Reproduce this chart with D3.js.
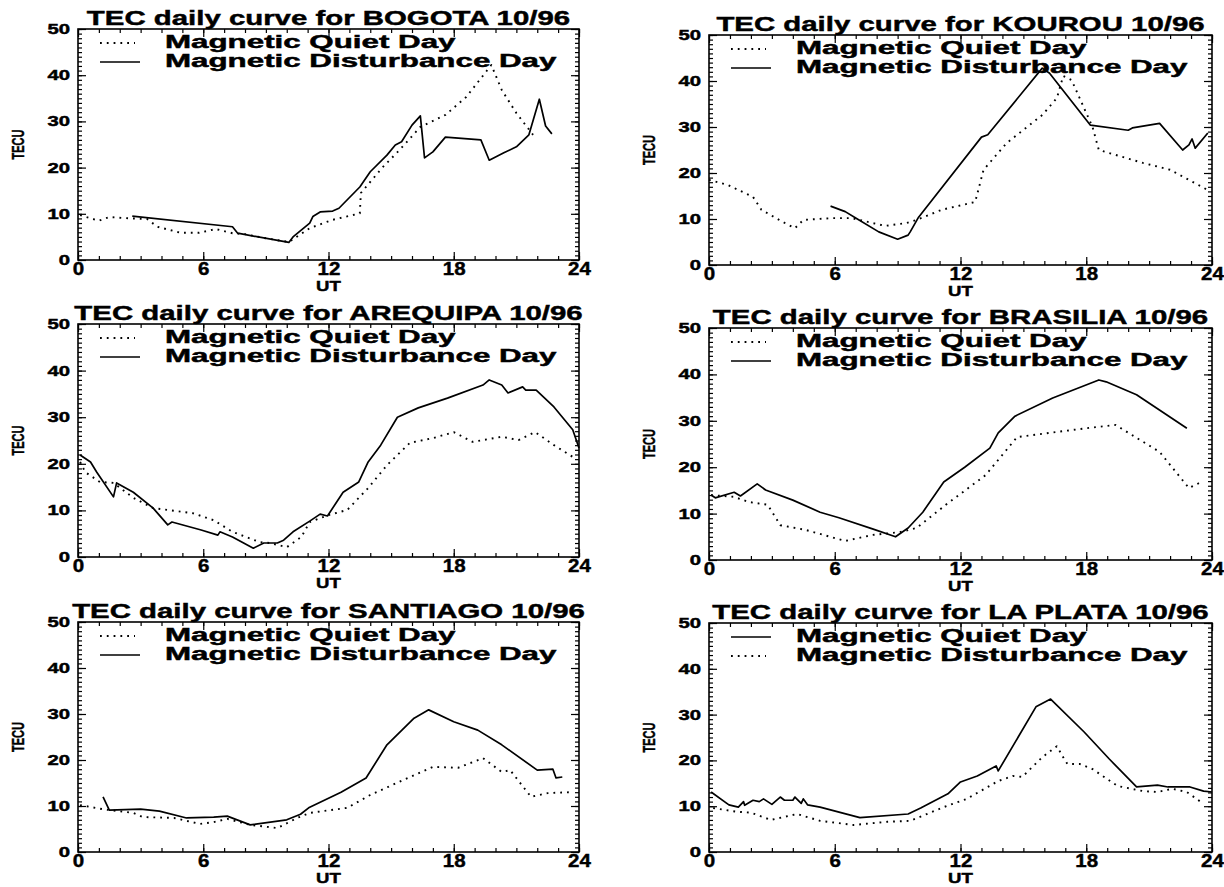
<!DOCTYPE html>
<html>
<head>
<meta charset="utf-8">
<script src="https://cdn.jsdelivr.net/npm/d3@7"></script>
<style>
  body { margin: 0; background: #fff; }
  svg { display: block; }
  text { font-family: "Liberation Sans", Arial, Helvetica, sans-serif; font-weight: bold; fill: #000; stroke: #000; stroke-width: 0.45; }
</style>
</head>
<body>
<svg id="chart" width="1224" height="887"></svg>
<script>
// ---- data -------------------------------------------------------------
const stations = ["BOGOTA", "KOUROU", "AREQUIPA", "BRASILIA", "SANTIAGO", "LA PLATA"];
const monthLabel = "10/96";
const xTickValues = [0, 6, 12, 18, 24];
const yTickValues = [0, 10, 20, 30, 40, 50];
const legendLabels = ["Magnetic Quiet Day", "Magnetic Disturbance Day"];

// [UT hour, TEC units]
const bogotaQuiet = [[0.1,9.7],[1.0,8.5],[1.5,9.3],[2.5,9.0],[3.3,8.9],[3.8,7.2],[4.9,5.9],[5.8,5.9],[6.6,6.7],[7.4,5.8],[8.0,5.6],[9.0,4.7],[10.1,3.9],[10.6,5.4],[11.1,6.9],[12.2,8.7],[13.5,10.1],[13.55,14.5],[14.6,20.1],[15.4,23.8],[16.4,28.8],[17.6,31.4],[18.6,35.3],[19.8,42.2],[20.3,36.8],[21.0,31.8],[21.8,27.1]];
const bogotaDisturbed = [[2.6,9.5],[7.4,7.2],[7.65,5.8],[10.1,3.8],[10.3,5.0],[11.1,8.0],[11.25,9.4],[11.6,10.4],[12.2,10.6],[12.5,11.2],[13.5,15.8],[14.0,19.1],[14.8,22.7],[15.2,24.9],[15.5,25.6],[16.0,29.2],[16.4,31.2],[16.6,22.1],[17.0,23.4],[17.6,26.6],[19.3,26.0],[19.7,21.6],[20.4,23.2],[21.0,24.5],[21.6,27.1],[22.1,34.8],[22.4,29.0],[22.7,27.3]];

const kourouQuiet = [[0,18.5],[0.9,17.4],[2.1,14.8],[2.5,12.0],[3.5,9.4],[4.1,8.0],[4.5,9.8],[5.9,10.2],[6.8,10.2],[8.4,8.5],[9.4,9.1],[9.9,9.8],[11.1,12.0],[12.7,13.7],[13.1,20.7],[14.2,26.5],[15.9,32.6],[16.6,36.3],[16.9,41.1],[17.3,40.2],[18.3,30.0],[18.6,25.0],[20.7,22.2],[22.0,20.7],[23.8,16.3]];
const kourouDisturbed = [[5.8,12.8],[6.5,11.6],[7.0,10.2],[8.1,7.2],[9.0,5.6],[9.5,6.5],[9.6,7.2],[10.0,10.4],[13.0,27.8],[13.3,28.3],[15.9,42.8],[16.25,41.7],[18.2,30.4],[20.0,29.3],[20.2,29.8],[21.5,30.8],[22.6,25.0],[22.9,26.1],[23.05,27.4],[23.2,25.4],[23.8,28.7]];

const arequipaQuiet = [[0.1,20.4],[0.35,18.2],[1.05,16.1],[1.7,15.9],[2.65,12.7],[3.6,10.5],[4.3,10.1],[5.5,9.4],[6.5,7.9],[7.4,5.4],[8.7,3.2],[9.2,3.0],[10.0,2.1],[10.7,4.3],[11.1,7.5],[12.0,9.0],[12.9,10.1],[13.9,14.8],[14.8,19.7],[15.9,24.5],[17.0,25.5],[18.0,26.8],[18.9,24.7],[20.3,25.8],[21.1,25.1],[21.9,26.8],[22.8,24.0],[23.8,21.2]];
const arequipaDisturbed = [[0.1,21.9],[0.6,20.4],[0.9,18.2],[1.7,12.9],[1.85,15.9],[2.65,13.9],[3.6,10.5],[4.3,6.9],[4.5,7.5],[5.9,5.8],[6.7,4.7],[6.8,5.4],[7.4,4.3],[8.4,1.9],[8.9,3.0],[9.55,3.0],[9.85,3.6],[10.3,5.4],[11.1,7.7],[11.6,9.2],[11.95,8.8],[12.7,13.9],[13.45,16.1],[13.9,20.4],[14.5,24.0],[15.3,30.0],[16.3,32.0],[17.7,34.1],[19.4,36.9],[19.7,38.0],[20.3,36.9],[20.6,35.2],[21.3,36.5],[21.45,35.8],[21.95,35.8],[22.8,32.2],[23.7,27.3],[24.0,23.4]];

const brasiliaQuiet = [[0.1,14.0],[1.2,13.6],[1.9,12.5],[2.8,11.9],[3.4,7.5],[4.6,6.5],[6.5,4.1],[7.8,5.4],[9.1,6.0],[9.9,6.9],[11.3,11.9],[13.2,18.3],[14.7,26.5],[18.0,28.4],[19.4,29.1],[21.5,23.3],[22.9,15.5],[23.4,16.6]];
const brasiliaDisturbed = [[0.1,14.0],[0.3,13.4],[1.2,14.6],[1.5,13.8],[2.3,16.4],[2.7,15.1],[4.0,12.9],[5.3,10.3],[6.2,9.1],[7.8,6.7],[8.9,5.0],[9.5,6.9],[10.2,10.3],[11.2,16.8],[12.2,20.0],[13.4,24.1],[13.8,27.4],[14.6,31.0],[16.4,34.9],[18.6,38.8],[18.95,38.4],[20.4,35.6],[22.8,28.4]];

const santiagoQuiet = [[0.1,10.2],[1.2,9.3],[2.65,8.5],[3.1,7.6],[4.6,7.4],[5.85,6.1],[6.5,6.5],[7.15,7.2],[8.25,5.9],[9.55,5.2],[10.5,7.4],[11.1,8.5],[12.9,9.6],[14.0,12.4],[15.9,16.3],[17.0,18.5],[18.2,18.3],[19.4,20.4],[20.3,17.4],[20.7,17.8],[21.7,12.0],[22.5,12.8],[23.6,13.0]];
const santiagoDisturbed = [[1.2,12.0],[1.5,9.1],[3.0,9.3],[3.9,8.9],[5.2,7.4],[6.5,7.6],[7.15,7.8],[8.25,5.9],[10.0,7.0],[10.66,8.2],[11.05,9.6],[12.6,13.0],[13.8,16.1],[14.8,23.3],[16.1,29.1],[16.8,30.9],[18.0,28.3],[19.15,26.5],[20.3,23.3],[22.0,17.8],[22.75,18.0],[22.9,16.1],[23.2,16.3]];

const laPlataQuiet = [[0.1,13.1],[0.95,10.3],[1.4,9.8],[1.65,11.0],[1.7,10.2],[2.1,11.3],[2.4,11.0],[2.6,11.6],[3.0,10.4],[3.4,12.0],[3.6,11.3],[4.0,11.3],[4.1,12.0],[4.4,10.6],[4.5,11.6],[4.7,10.3],[5.3,9.8],[7.2,7.5],[9.5,8.3],[10.1,9.6],[11.4,12.7],[12.0,15.3],[12.8,16.6],[13.7,18.8],[13.8,17.7],[15.6,31.7],[16.3,33.4],[17.9,26.2],[19.1,20.3],[20.4,14.2],[21.4,14.6],[21.9,14.2],[22.95,14.2],[23.6,13.3],[24.0,13.1]];
const laPlataDisturbed = [[0.2,9.6],[1.3,8.8],[2.0,8.6],[2.95,7.0],[4.2,8.3],[5.3,6.8],[6.9,5.9],[8.5,6.6],[9.6,6.8],[11.2,9.8],[12.3,11.6],[13.8,15.5],[14.5,16.6],[14.95,16.4],[15.9,20.7],[16.6,23.1],[16.9,20.7],[17.1,19.2],[17.7,19.2],[18.3,18.1],[19.5,14.4],[20.7,13.3],[21.4,13.1],[22.1,13.8],[22.8,13.1],[23.6,10.5]];

const quietSeries = [bogotaQuiet, kourouQuiet, arequipaQuiet, brasiliaQuiet, santiagoQuiet, laPlataQuiet];
const disturbedSeries = [bogotaDisturbed, kourouDisturbed, arequipaDisturbed, brasiliaDisturbed, santiagoDisturbed, laPlataDisturbed];
// the La Plata panel plots its quiet day solid and its disturbed day dotted
const quietIsDotted = [true, true, true, true, true, false];

// ---- layout -----------------------------------------------------------
const colX = [[78, 579], [709, 1212]];
const rowY = [[[29, 260], [324, 557], [622, 852]], [[35, 265], [328, 560], [623, 852]]];

const DOT = "1.8,5";
const svg = d3.select("#chart");

function stretchedText(parent, x, y, str, size, sx, anchor, rotate) {
  const g = parent.append("g")
    .attr("transform", `translate(${x},${y})` + (rotate ? ` rotate(${rotate})` : "") + ` scale(${sx},1)`);
  g.append("text").attr("text-anchor", anchor).attr("font-size", size).text(str);
  return g;
}

stations.forEach((name, i) => {
  const col = i % 2, row = Math.floor(i / 2);
  const [x0, x1] = colX[col];
  const [top, bot] = rowY[col][row];
  const x = d3.scaleLinear().domain([0, 24]).range([x0, x1]);
  const y = d3.scaleLinear().domain([0, 50]).range([bot, top]);
  const g = svg.append("g");

  // minor and major ticks on all four sides, pointing inward
  const hours = d3.range(0, 25);
  const units = d3.range(0, 51);
  const tickStyle = sel => { sel.select(".domain").remove(); sel.selectAll("line").attr("stroke", "#000").attr("stroke-width", 1.2); };
  g.append("g").attr("transform", `translate(0,${bot})`).call(d3.axisBottom(x).tickValues(hours).tickSize(-4).tickFormat("")).call(tickStyle);
  g.append("g").attr("transform", `translate(0,${top})`).call(d3.axisTop(x).tickValues(hours).tickSize(-4).tickFormat("")).call(tickStyle);
  g.append("g").attr("transform", `translate(0,${top})`).call(d3.axisTop(x).tickValues(xTickValues).tickSize(-8).tickFormat("")).call(tickStyle);
  g.append("g").attr("transform", `translate(${x0},0)`).call(d3.axisLeft(y).tickValues(units).tickSize(-4).tickFormat("")).call(tickStyle);
  g.append("g").attr("transform", `translate(${x1},0)`).call(d3.axisRight(y).tickValues(units).tickSize(-4).tickFormat("")).call(tickStyle);
  g.append("g").attr("transform", `translate(${x1},0)`).call(d3.axisRight(y).tickValues(yTickValues).tickSize(-8).tickFormat("")).call(tickStyle);

  // labelled x axis
  const xAxis = g.append("g").attr("transform", `translate(0,${bot})`)
    .call(d3.axisBottom(x).tickValues(xTickValues).tickSize(-8).tickPadding(2).tickFormat(d3.format("d")))
    .call(tickStyle);
  xAxis.attr("font-family", null).attr("font-size", null);
  xAxis.selectAll("text").attr("font-size", 19).attr("fill", "#000").attr("transform", "scale(1.08,1)");

  // labelled y axis, wide digits
  const sxY = 1.45;
  const yAxis = g.append("g").attr("transform", `translate(${x0},0)`)
    .call(d3.axisLeft(y).tickValues(yTickValues).tickSize(-8).tickPadding(5.5).tickFormat(d3.format("d")))
    .call(tickStyle);
  yAxis.attr("font-family", null).attr("font-size", null);
  yAxis.selectAll("text").attr("font-size", 14).attr("fill", "#000").attr("transform", `scale(${sxY},1)`);

  // frame
  g.append("rect").attr("x", x0).attr("y", top).attr("width", x1 - x0).attr("height", bot - top)
    .attr("fill", "none").attr("stroke", "#000").attr("stroke-width", 1.6);

  // curves
  const line = d3.line().x(d => x(d[0])).y(d => y(d[1]));
  const series = [
    { data: quietSeries[i], dotted: quietIsDotted[i], label: legendLabels[0] },
    { data: disturbedSeries[i], dotted: !quietIsDotted[i], label: legendLabels[1] }
  ];
  series.forEach(s => {
    g.append("path").datum(s.data).attr("d", line)
      .attr("fill", "none").attr("stroke", "#000")
      .attr("stroke-width", s.dotted ? 1.9 : 1.7)
      .attr("stroke-dasharray", s.dotted ? DOT : null)
      .attr("stroke-linejoin", "round");
  });

  // legend
  series.forEach((s, k) => {
    const ly = top + 14 + k * 19;
    g.append("line").attr("x1", x0 + 22).attr("x2", x0 + (s.dotted ? 57 : 62))
      .attr("y1", ly).attr("y2", ly).attr("stroke", "#000")
      .attr("stroke-width", s.dotted ? 1.9 : 1.4).attr("stroke-dasharray", s.dotted ? DOT : null);
    stretchedText(g, x0 + 87, ly + 4.5, s.label, 18, 1.74, "start");
  });

  // titles and axis names
  const cx = (x0 + x1) / 2;
  stretchedText(g, cx, top - 4, `TEC daily curve for ${name} ${monthLabel}`, 21, 1.40, "middle");
  stretchedText(g, cx, bot + 31, "UT", 15.5, 1.2, "middle");
  stretchedText(g, x0 - 54, (top + bot) / 2, "TECU", 17, 0.65, "middle", -90);
});
</script>
</body>
</html>
